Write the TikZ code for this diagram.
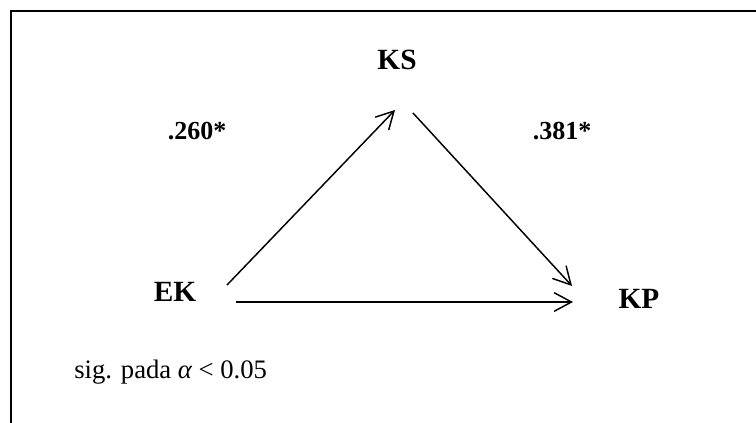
\documentclass[tikz,border=0pt]{standalone}
\usepackage{fontspec}
\setmainfont{Liberation Serif}
\usepackage{tikz}
\usetikzlibrary{arrows.meta, calc}

\begin{document}
\begin{tikzpicture}[
    x=0.75pt, y=-0.75pt,
    var/.style = {font=\fontsize{22}{26}\selectfont\bfseries, inner sep=0pt},
    coef/.style = {font=\fontsize{19.5}{23}\selectfont\bfseries, inner sep=0pt},
    note/.style = {font=\fontsize{20}{24}\selectfont, inner sep=0pt, anchor=west},
    arrow/.style = {draw=black, line width=1.1pt, -{Straight Barb[length=13pt,width=14pt,line width=1.1pt]}}
]
\useasboundingbox (0,0) rectangle (756,423);

% frame (only left and top edges are visible)
\draw [line width=1.6pt] (11,423) -- (11,11) -- (756,11);

% variables
\node (ks) [var] at (397, 60) {KS};
\node (ek) [var] at (175, 292) {EK};
\node (kp) [var] at (639, 299) {KP};

% path coefficients
\node (b1) [coef] at (197, 131) {.260*};
\node (b2) [coef] at (562, 131) {.381*};

% note
\node (sig) [note] at (74, 372) {sig. pada {\itshape α} < 0.05};

% Connections
\draw [arrow] ($(ek)+(52,-7)$) -- ($(ks)+(-2,50)$);
\draw [arrow] ($(ks)+(16,53)$) -- ($(kp)+(-67,-13)$);
\draw [arrow] ($(ek)+(61,10)$) -- ($(kp)+(-66,3)$);

\end{tikzpicture}
\end{document}
